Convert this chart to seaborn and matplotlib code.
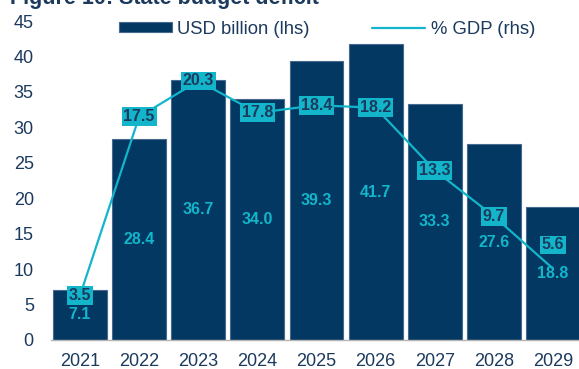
import numpy as np
import pandas as pd
import matplotlib
matplotlib.use("Agg")
import matplotlib.pyplot as plt
import seaborn as sns

years = ["2021", "2022", "2023", "2024", "2025", "2026", "2027", "2028", "2029"]
usd_billion = [7.1, 28.4, 36.7, 34.0, 39.3, 41.7, 33.3, 27.6, 18.8]
pct_gdp = [3.5, 17.5, 20.3, 17.8, 18.4, 18.2, 13.3, 9.7, 5.6]

NAVY = "#033863"
CYAN = "#12B5C9"
TEXT = "#1C3A5E"

sns.set_theme(style="white")
plt.rcParams["font.family"] = ["Liberation Sans", "DejaVu Sans"]

df = pd.DataFrame({"year": years, "usd": usd_billion, "gdp": pct_gdp})
df["pos"] = np.arange(len(df))

W, H = 579, 369
fig = plt.figure(figsize=(W / 100, H / 100), dpi=100)
# axes extend slightly beyond the right edge of the canvas
ax = fig.add_axes([50.5 / W, 1 - 340 / H, 532 / W, 319 / H])

sns.barplot(data=df, x="year", y="usd", color=NAVY, saturation=1, width=0.913,
            edgecolor="#46698f", linewidth=0.8, ax=ax)
ax.set_xlim(-0.5, len(years) - 0.5)
ax.set_ylim(0, 45)
ax.set_yticks(np.arange(0, 50, 5))
ax.set_xlabel("")
ax.set_ylabel("")
ax.tick_params(axis="both", length=0, labelsize=13, colors=TEXT)
ax.tick_params(axis="y", pad=12)
ax.tick_params(axis="x", pad=9)
for s in ["left", "right", "top"]:
    ax.spines[s].set_visible(False)
ax.spines["bottom"].set_color("#b5b5b5")
ax.spines["bottom"].set_linewidth(1.0)

ax.bar_label(ax.containers[0], labels=[f"{v:.1f}" for v in usd_billion],
             label_type="center", color=CYAN, fontsize=11.5, fontweight="bold")

ax2 = ax.twinx()
sns.lineplot(data=df, x="pos", y="gdp", color=CYAN, linewidth=1.6, ax=ax2,
             legend=False)
ax2.set_ylim(0, 25)
ax2.set_yticks([])
ax2.set_ylabel("")
ax2.set_xlabel("")
for s in ax2.spines.values():
    s.set_visible(False)

for i, (x, v) in enumerate(zip(df["pos"], pct_gdp)):
    dy = 17 if i == len(pct_gdp) - 1 else 0
    ax2.annotate(f"{v:.1f}", xy=(x, v), xytext=(0, dy), textcoords="offset points",
                 ha="center", va="center", fontsize=11.5, fontweight="bold",
                 color=TEXT,
                 bbox=dict(boxstyle="square,pad=0.12", fc=CYAN, ec="none"))

handles = [ax.containers[0], ax2.lines[0]]
fig.legend(handles=handles, labels=["USD billion (lhs)", "% GDP (rhs)"],
           loc="center left", bbox_to_anchor=(119 / W, 1 - 29 / H),
           bbox_transform=fig.transFigure, ncol=2, frameon=False,
           fontsize=13.3, handlelength=2.85, handleheight=0.5,
           handletextpad=0.3, columnspacing=3.4, borderpad=0, borderaxespad=0,
           labelcolor=TEXT)

fig.text(10 / W, 1 - 4 / H, "Figure 10: State budget deficit", fontsize=15.5,
         fontweight="bold", color=TEXT, ha="left", va="baseline")

fig.savefig("out.png", dpi=100)
